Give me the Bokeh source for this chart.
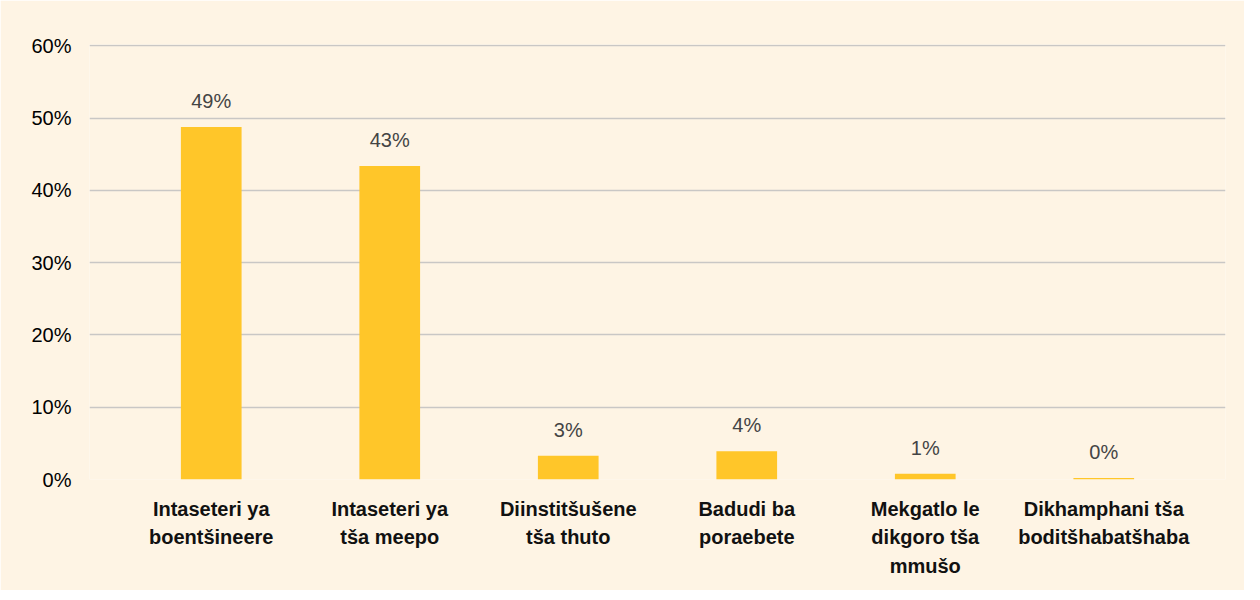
from bokeh.plotting import figure
from bokeh.models import ColumnDataSource, FactorRange, Range1d, FixedTicker
from bokeh.core.properties import value
from bokeh.embed import file_html
from bokeh.resources import INLINE

categories = [
    "Intaseteri ya\nboentšineere",
    "Intaseteri ya\ntša meepo",
    "Diinstitšušene\ntša thuto",
    "Badudi ba\nporaebete",
    "Mekgatlo le\ndikgoro tša\nmmušo",
    "Dikhamphani tša\nboditšhabatšhaba",
]
values = [48.8, 43.4, 3.3, 3.9, 0.8, 0.2]
labels = ["49%", "43%", "3%", "4%", "1%", "0%"]
y_ticks = [0, 10, 20, 30, 40, 50, 60]

BG = "#FEF4E4"
BAR = "#FFC629"
GRID = "#C9C7C5"

src = ColumnDataSource(dict(cat=categories, val=values, lab=labels))

p = figure(
    width=1244, height=590,
    x_range=FactorRange(factors=categories, range_padding=0.182, range_padding_units="absolute"),
    y_range=Range1d(0, 60.2),
    output_backend="svg", toolbar_location=None,
    background_fill_color=BG, border_fill_color=BG,
    min_border_left=89, min_border_right=19, min_border_top=44, min_border_bottom=111,
)
p.outline_line_color = None

p.vbar(x="cat", top="val", width=0.34, source=src, fill_color=BAR, line_color=None)
p.text(x="cat", y="val", text="lab", source=src, text_align="center",
       text_baseline="alphabetic", y_offset=-26, text_font=value("Liberation Sans"),
       text_font_size="20px", text_color="#444444")

p.yaxis.ticker = FixedTicker(ticks=y_ticks)
p.yaxis.major_label_overrides = {t: f"{t}%" for t in y_ticks}
p.yaxis.axis_line_color = None
p.yaxis.major_tick_line_color = None
p.yaxis.minor_tick_line_color = None
p.yaxis.major_label_standoff = 12
p.yaxis.major_label_text_font = "Liberation Sans"
p.yaxis.major_label_text_font_size = "20px"
p.yaxis.major_label_text_color = "#000000"

p.xaxis.axis_line_color = None
p.xaxis.major_tick_line_color = None
p.xaxis.minor_tick_line_color = None
p.xaxis.major_label_standoff = 12
p.xaxis.major_label_text_font = "Liberation Sans"
p.xaxis.major_label_text_font_size = "20px"
p.xaxis.major_label_text_font_style = "bold"
p.xaxis.major_label_text_color = "#111111"
p.xaxis.major_label_text_line_height = 1.3

p.xgrid.grid_line_color = None
p.ygrid.grid_line_color = GRID
p.ygrid.grid_line_width = 1.5

open("out.html", "w").write(file_html(p, INLINE))
